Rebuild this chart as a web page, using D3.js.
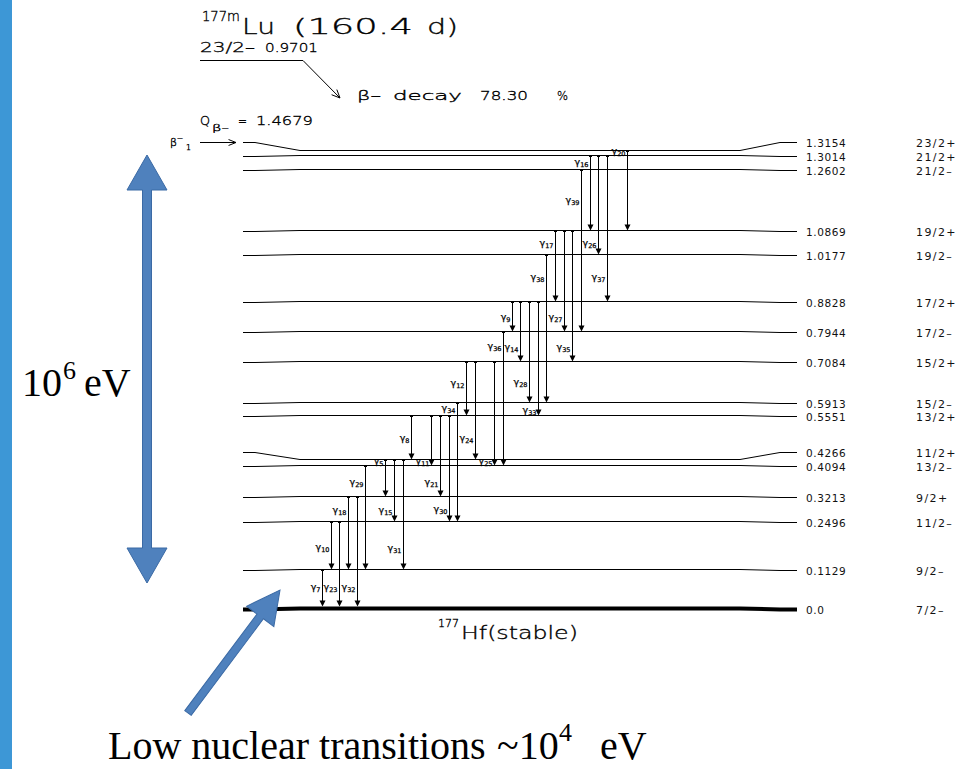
<!DOCTYPE html>
<html><head><meta charset="utf-8">
<script src="https://cdn.jsdelivr.net/npm/d3@7"></script>
<style>body{margin:0;background:#fff;overflow:hidden}</style>
</head><body>
<svg id="c" width="973" height="769"></svg>
<script>
// ---------------- DATA ----------------
// 177Hf levels populated in the beta- decay of 177mLu (energies in MeV)
const levelEnergies = [0.0, 0.1129, 0.2496, 0.3213, 0.4094, 0.4266, 0.5551, 0.5913, 0.7084, 0.7944, 0.8828, 1.0177, 1.0869, 1.2602, 1.3014, 1.3154];
const levelLabels   = ["0.0","0.1129","0.2496","0.3213","0.4094","0.4266","0.5551","0.5913","0.7084","0.7944","0.8828","1.0177","1.0869","1.2602","1.3014","1.3154"];
const levelSpins    = ["7/2-","9/2-","11/2-","9/2+","13/2-","11/2+","13/2+","15/2-","15/2+","17/2-","17/2+","19/2-","19/2+","21/2-","21/2+","23/2+"];

// gamma transitions (left to right as drawn): index, initial level, final level (MeV)
const gammaNames = [7, 10, 23, 18, 32, 29, 5, 15, 31, 8, 11, 21, 30, 34, 12, 24, 25, 36, 9, 14, 28, 33, 38, 17, 27, 35, 39, 16, 26, 37, 20];
const gammaFrom  = [0.1129,0.2496,0.2496,0.3213,0.3213,0.4094,0.4266,0.4266,0.4266,0.5551,0.5551,0.5551,0.5551,0.5913,0.7084,0.7084,0.7084,0.7944,0.8828,0.8828,0.8828,0.8828,1.0177,1.0869,1.0869,1.0869,1.2602,1.3014,1.3014,1.3014,1.3154];
const gammaTo    = [0.0,   0.1129,0.0,   0.1129,0.0,   0.1129,0.3213,0.2496,0.1129,0.4266,0.4094,0.3213,0.2496,0.2496,0.5551,0.4266,0.4094,0.4094,0.7944,0.7084,0.5913,0.5551,0.5913,0.8828,0.7944,0.7084,0.7944,1.0869,1.0177,0.8828,1.0869];

// header texts
const parentNucleus = {mass: "177m", symbol: "Lu", halfLife: "(160.4", unit: "d)"};
const parentLevel = {spin: "23/2-", energy: "0.9701"};
const decayText = {mode: "β-", word: "decay", branch: "78.30", pct: "%"};
const qValue = "1.4679";
const daughter = {mass: "177", name: "Hf(stable)"};
const annotations = {big: "10", bigExp: "6", bigUnit: "eV", low: "Low nuclear transitions", lowTilde: "~10", lowExp: "4", lowUnit: "eV"};

// ---------------- LAYOUT (not data) ----------------
const gapBefore = [5, 11, 25, 20];     // wider column spacing before these gammas
const GAP_UNITS = 2.31;
const labelAt = [0.47,0.53,0.77,0.18,0.82,0.16,0.03,0.81,0.80,0.51,0.90,0.82,0.88,0.05,0.40,0.78,0.96,0.11,0.53,0.75,0.80,0.95,0.15,0.18,0.86,0.89,0.19,0.08,0.88,0.83,0.0];
const LABEL_GAP = 15;
const PLOT_FONT = "'DejaVu Sans', 'Liberation Sans', sans-serif";
const SERIF = "'Liberation Serif', 'DejaVu Serif', serif";
const BLUE_FILL = "#4f81bd", BLUE_STROKE = "#3b6aa5";

// ---------------- DRAW ----------------
const svg = d3.select("#c");
svg.append("rect").attr("width",973).attr("height",769).attr("fill","#fff");
svg.append("rect").attr("x",0).attr("y",0).attr("width",12).attr("height",769).attr("fill","#3d97d6");

const y = d3.scaleLinear().domain([0, d3.max(levelEnergies)]).range([608, 150]);
const snap = v => Math.round(v) + 0.5;

const levels = levelEnergies.map((e,i)=>({e, label: levelLabels[i], spin: levelSpins[i], ty: snap(y(e))}));
levels.forEach((d,i)=>{
  d.ly = i===0 ? d.ty : Math.min(d.ty, levels[i-1].ly - LABEL_GAP);
  if (Math.abs(d.ly - d.ty) < 1.5) d.ly = d.ty;
  d.ly = snap(d.ly);
});
const levelByE = new Map(levels.map(d=>[d.e, d]));

const X = {left:243, b1:255, b2:300, b3:740, b4:780, right:797};
const line = d3.line();
const gL = svg.append("g");
levels.forEach(d=>{
  const pts = d.ly===d.ty ? [[X.left,d.ty],[X.right,d.ty]]
    : [[X.left,d.ly],[X.b1,d.ly],[X.b2,d.ty],[X.b3,d.ty],[X.b4,d.ly],[X.right,d.ly]];
  gL.append("path").attr("d", line(pts)).attr("fill","none")
    .attr("stroke","#000").attr("stroke-width", d.e===0 ? 4 : 1);
  gL.append("text").attr("x",806).attr("y",d.ly+4)
    .attr("font-family",PLOT_FONT).attr("font-size",10.5).attr("letter-spacing",0.6)
    .attr("fill","#111").text(d.label);
  gL.append("text").attr("x",916).attr("y",d.ly+4)
    .attr("font-family",PLOT_FONT).attr("font-size",11).attr("letter-spacing",1.4)
    .attr("fill","#111").text(d.spin.replace("-","–"));
});

// gammas
const gammas = gammaNames.map((n,i)=>({n, from: gammaFrom[i], to: gammaTo[i], t: labelAt[i]}));
let u = 0;
gammas.forEach((d,i)=>{ if(i>0) u += gapBefore.includes(d.n) ? GAP_UNITS : 1; d.u = u; });
const x = d3.scaleLinear().domain([0,u]).range([322,627]);
const gG = svg.append("g");
gammas.forEach(d=>{
  const x0 = snap(x(d.u));
  const y1 = levelByE.get(d.from).ty;
  const y2 = d.to===0 ? levelByE.get(0).ty - 2 : levelByE.get(d.to).ty;
  gG.append("line").attr("x1",x0).attr("x2",x0).attr("y1",y1).attr("y2",y2-4)
    .attr("stroke","#000").attr("stroke-width",1);
  gG.append("line").attr("x1",x0-1.5).attr("x2",x0+1.5).attr("y1",y1+1).attr("y2",y1+1)
    .attr("stroke","#000").attr("stroke-width",1);
  gG.append("path").attr("d",`M${x0-3},${y2-6}L${x0+3},${y2-6}L${x0},${y2}Z`).attr("fill","#000");
  const ly = y1 + d.t*(y2-y1) + 3;
  const t = gG.append("text").attr("x",x0-2).attr("y",ly).attr("text-anchor","end")
    .attr("font-family",PLOT_FONT).attr("fill","#000").attr("stroke","#000").attr("stroke-width",0.25);
  t.append("tspan").attr("font-size",9.5).text("γ");
  t.append("tspan").attr("font-size",6.5).attr("dy",2).text(d.n);
});

// open arrow helper
function openArrow(g, x1, y1, x2, y2, len=9, ang=0.42){
  const a = Math.atan2(y2-y1, x2-x1);
  const p = d3.path();
  p.moveTo(x2 - len*Math.cos(a-ang), y2 - len*Math.sin(a-ang));
  p.lineTo(x2, y2);
  p.lineTo(x2 - len*Math.cos(a+ang), y2 - len*Math.sin(a+ang));
  g.append("path").attr("d",p.toString()).attr("fill","none").attr("stroke","#000").attr("stroke-width",1);
}

// header: plotter-style stretched thin text
const gH = svg.append("g").attr("font-family",PLOT_FONT).attr("fill","#000")
  .attr("font-weight",200).attr("stroke","#000").attr("stroke-width",0.35);
function fitText(str, x0, y0, size, width){
  const t = gH.append("text").attr("font-size",size).attr("transform",`translate(${x0},${y0})`).text(str);
  if (width){
    const w = t.node().getComputedTextLength();
    if (w>0) t.attr("transform",`translate(${x0},${y0}) scale(${width/w},1)`);
  }
  return t;
}
fitText(parentNucleus.mass, 202, 21, 14, 38);
fitText(parentNucleus.symbol, 242, 34, 22, 33);
fitText(parentNucleus.halfLife, 293, 34, 21, 120);
fitText(parentNucleus.unit, 427, 34, 21, 31);
fitText(parentLevel.spin.replace("-","–"), 200, 52, 14, 55);
fitText(parentLevel.energy, 265, 52, 13, 53);
svg.append("path").attr("d","M200,60.5L303,60.5L340,98").attr("fill","none").attr("stroke","#000").attr("stroke-width",1);
openArrow(svg, 303, 60.5, 340, 98);
fitText(decayText.mode.replace("-","–"), 357, 100, 13, 24);
fitText(decayText.word, 393, 100, 13, 69);
fitText(decayText.branch, 480, 100, 13, 48);
fitText(decayText.pct, 557, 100, 13, 11);
fitText("Q", 200, 125, 13, 10);
fitText("β–", 212, 131, 9, 17);
fitText("=", 238, 125, 13, 9);
fitText(qValue, 256, 125, 13, 57);

// beta feeding arrow to top level
const topLevel = levelByE.get(d3.max(levelEnergies));
fitText("β", 170, topLevel.ly+3, 10, 7);
fitText("–", 177, topLevel.ly-2, 8, 6);
fitText("1", 186, topLevel.ly+7, 8, 5);
svg.append("line").attr("x1",200).attr("x2",236).attr("y1",topLevel.ly).attr("y2",topLevel.ly).attr("stroke","#000");
openArrow(svg, 200, topLevel.ly, 236, topLevel.ly, 8, 0.38);

// daughter label
const gnd = levelByE.get(0);
fitText(daughter.mass, 438, gnd.ty+18, 11, 21);
fitText(daughter.name, 461, gnd.ty+30, 18, 117);

// blue block arrows
function blockArrow(x1,y1,x2,y2,s,Hh,h,double){
  const L = Math.hypot(x2-x1,y2-y1);
  const ang = Math.atan2(y2-y1,x2-x1)*180/Math.PI;
  const pts = double
    ? [[h,-s],[L-h,-s],[L-h,-Hh],[L,0],[L-h,Hh],[L-h,s],[h,s],[h,Hh],[0,0],[h,-Hh]]
    : [[0,-s],[L-h,-s],[L-h,-Hh],[L,0],[L-h,Hh],[L-h,s],[0,s]];
  svg.append("path").attr("d", d3.line()(pts)+"Z")
    .attr("transform",`translate(${x1},${y1}) rotate(${ang})`)
    .attr("fill",BLUE_FILL).attr("stroke",BLUE_STROKE).attr("stroke-width",1);
}
blockArrow(147,583,147,155,4.5,20,35,true);
blockArrow(188,713,280,590,4,17,33,false);

// annotations
const gA = svg.append("g").attr("font-family",SERIF).attr("fill","#000");
gA.append("text").attr("x",22).attr("y",396).attr("font-size",40).text(annotations.big);
gA.append("text").attr("x",63).attr("y",379).attr("font-size",26).text(annotations.bigExp);
gA.append("text").attr("x",84).attr("y",396).attr("font-size",40).text(annotations.bigUnit);
gA.append("text").attr("x",108).attr("y",759).attr("font-size",40).text(annotations.low);
gA.append("text").attr("x",497).attr("y",759).attr("font-size",40).text(annotations.lowTilde);
gA.append("text").attr("x",559).attr("y",741).attr("font-size",26).text(annotations.lowExp);
gA.append("text").attr("x",600).attr("y",759).attr("font-size",40).text(annotations.lowUnit);
</script>
</body></html>
